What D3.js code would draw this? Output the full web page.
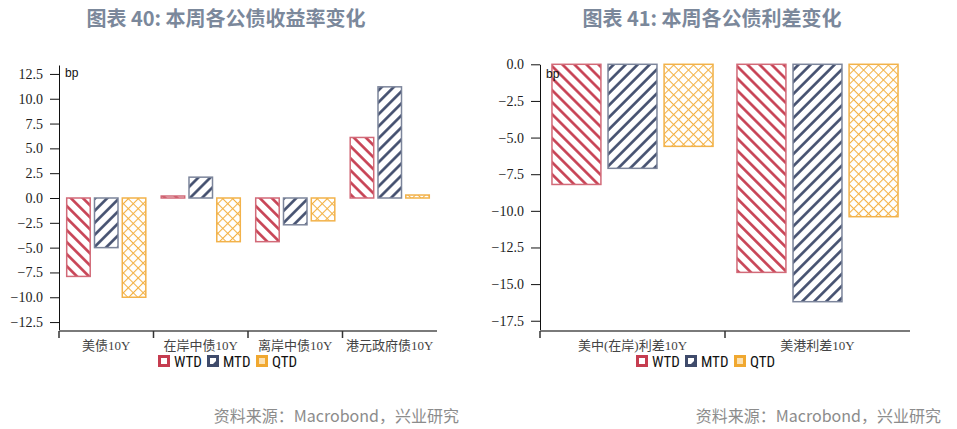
<!DOCTYPE html>
<html>
<head>
<meta charset="utf-8">
<script src="https://cdn.jsdelivr.net/npm/d3@7"></script>
<style>
    body { margin: 0; background: #fff; }
    .grfTitle { font-family: "Noto Sans CJK SC", sans-serif; font-weight: bold; font-size: 20px; fill: #7b889b; }
    .source { font-family: "Noto Sans CJK SC", sans-serif; font-size: 16px; fill: #8c8c8c; }
    .yticks text { font-family: "Liberation Serif", serif; font-size: 14px; fill: #222; }
    .xticks text { font-family: "Liberation Serif", "Noto Sans CJK SC", serif; font-size: 13px; fill: #444; }
    .unit { font-family: "Liberation Sans", sans-serif; font-size: 12px; fill: #111; }
    .legTxt { font-family: "Liberation Sans Narrow", "Roboto Condensed", sans-serif; font-size: 15px; fill: #111; }
</style>
</head>
<body>
<div id="grf"></div>
<script>
// chart 40 data
const yieldCats = ["美债10Y", "在岸中债10Y", "离岸中债10Y", "港元政府债10Y"];
const yieldWTD = [-7.9, 0.2, -4.4, 6.1];
const yieldMTD = [-5.0, 2.1, -2.7, 11.2];
const yieldQTD = [-10.0, -4.4, -2.3, 0.3];
const yieldTicks = [-12.5, -10, -7.5, -5, -2.5, 0, 2.5, 5, 7.5, 10, 12.5];

// chart 41 data
const spreadCats = ["美中(在岸)利差10Y", "美港利差10Y"];
const spreadWTD = [-8.2, -14.2];
const spreadMTD = [-7.1, -16.2];
const spreadQTD = [-5.6, -10.4];
const spreadTicks = [-17.5, -15, -12.5, -10, -7.5, -5, -2.5, 0];

const seriesNames = ["WTD", "MTD", "QTD"];

const W = 957, H = 429;

var svg = d3.select("#grf").append("svg")
    .attr("width", W)
    .attr("height", H);

// hatch patterns
var defs = svg.append("defs");

function stripe(id, color, angle, gap, thick) {
    var p = defs.append("pattern")
        .attr("id", id)
        .attr("patternUnits", "userSpaceOnUse")
        .attr("width", gap).attr("height", gap)
        .attr("patternTransform", "rotate(" + angle + ")");
    p.append("rect").attr("width", gap).attr("height", gap).attr("fill", "#fff");
    p.append("line")
        .attr("x1", gap / 2).attr("x2", gap / 2)
        .attr("y1", 0).attr("y2", gap)
        .attr("stroke", color).attr("stroke-width", thick);
}
stripe("hWTD", "#c63d50", -45, 8.5, 2.6);
stripe("hMTD", "#3f4b6b", 45, 8.5, 2.6);

var cross = defs.append("pattern")
    .attr("id", "hQTD")
    .attr("patternUnits", "userSpaceOnUse")
    .attr("width", 7).attr("height", 7)
    .attr("patternTransform", "rotate(45)");
cross.append("rect").attr("width", 7).attr("height", 7).attr("fill", "#fff");
cross.append("line").attr("x1", 0).attr("x2", 7).attr("y1", 0.5).attr("y2", 0.5)
    .attr("stroke", "#f3b143").attr("stroke-width", 1.1);
cross.append("line").attr("x1", 0.5).attr("x2", 0.5).attr("y1", 0).attr("y2", 7)
    .attr("stroke", "#f3b143").attr("stroke-width", 1.1);

var fills = { WTD: "url(#hWTD)", MTD: "url(#hMTD)", QTD: "url(#hQTD)" };
var borders = { WTD: "#d26a78", MTD: "#7c859b", QTD: "#f2b24a" };

function drawChart(cfg) {
    var g = svg.append("g");

    var x0 = d3.scaleBand()
        .domain(cfg.cats)
        .range([cfg.left, cfg.right]);
    var x1 = d3.scaleBand()
        .domain(seriesNames)
        .range([0, x0.bandwidth()])
        .paddingInner(0.1)
        .paddingOuter(cfg.outer);
    var y = d3.scaleLinear()
        .domain(cfg.domain)
        .range([cfg.bottom, cfg.top]);

    // title
    g.append("text")
        .attr("class", "grfTitle")
        .attr("x", cfg.titleX)
        .attr("y", 26)
        .attr("text-anchor", "middle")
        .text(cfg.title);

    // bars
    var rows = cfg.cats.map((c, i) => ({
        cat: c,
        vals: seriesNames.map((s, j) => ({ s: s, v: cfg.series[j][i] }))
    }));

    var grp = g.selectAll(".grp").data(rows).enter().append("g")
        .attr("class", "grp")
        .attr("transform", d => "translate(" + x0(d.cat) + ",0)");

    grp.selectAll("rect").data(d => d.vals).enter().append("rect")
        .attr("x", d => x1(d.s) + 0.75)
        .attr("width", x1.bandwidth() - 1.5)
        .attr("y", d => y(Math.max(0, d.v)))
        .attr("height", d => Math.abs(y(d.v) - y(0)))
        .attr("fill", d => fills[d.s])
        .attr("stroke", d => borders[d.s])
        .attr("stroke-width", 1.5);

    // y axis
    var ya = g.append("g")
        .attr("class", "yticks")
        .attr("transform", "translate(" + cfg.left + ",0)")
        .call(d3.axisLeft(y).tickValues(cfg.ticks).tickFormat(d3.format(".1f")).tickSize(9).tickPadding(7).tickSizeOuter(0));
    ya.select(".domain").attr("stroke", "#111");
    ya.selectAll(".tick line").attr("stroke", "#111");

    // x axis
    var xa = g.append("g")
        .attr("class", "xticks")
        .attr("transform", "translate(0," + cfg.bottom + ")");
    xa.append("line")
        .attr("x1", cfg.left).attr("x2", cfg.right)
        .attr("stroke", "#7a7a7a").attr("stroke-width", 2);
    xa.selectAll(".sep").data(cfg.cats).enter().append("line")
        .attr("class", "sep")
        .attr("x1", d => x0(d)).attr("x2", d => x0(d))
        .attr("y1", 0).attr("y2", 7)
        .attr("stroke", "#333").attr("stroke-width", 1.5);
    xa.selectAll(".lbl").data(cfg.cats).enter().append("text")
        .attr("class", "lbl")
        .attr("x", d => x0(d) + x0.bandwidth() / 2)
        .attr("y", 19)
        .attr("text-anchor", "middle")
        .text(d => d);

    // unit
    g.append("text")
        .attr("class", "unit")
        .attr("x", cfg.left + 6)
        .attr("y", cfg.unitY)
        .text("bp");

    // legend
    var leg = g.selectAll(".leg").data(seriesNames).enter().append("g")
        .attr("class", "leg")
        .attr("transform", (d, i) => "translate(" + (cfg.legX + i * 49) + "," + 361 + ")");
    leg.append("rect")
        .attr("x", 1.5).attr("y", -4.5)
        .attr("width", 9).attr("height", 9)
        .attr("fill", d => d === "QTD" ? "#fbe1b3" : "#fff")
        .attr("stroke", d => d === "WTD" ? "#c63d50" : d === "MTD" ? "#3f4b6b" : "#f0a830")
        .attr("stroke-width", 3);
    leg.filter(d => d === "MTD").append("path")
        .attr("d", "M3,6 L9,0 L9,6 Z")
        .attr("fill", "#3f4b6b");
    leg.append("text")
        .attr("class", "legTxt")
        .attr("x", 16)
        .attr("y", 5.5)
        .text(d => d);

    // source
    g.append("text")
        .attr("class", "source")
        .attr("x", cfg.srcX)
        .attr("y", 422)
        .attr("text-anchor", "end")
        .text("资料来源：Macrobond，兴业研究");
}

drawChart({
    title: "图表 40: 本周各公债收益率变化",
    titleX: 226,
    cats: yieldCats,
    series: [yieldWTD, yieldMTD, yieldQTD],
    ticks: yieldTicks,
    domain: [-13.4, 13.4],
    left: 59, right: 437, top: 65, bottom: 331,
    outer: 0.25,
    unitY: 77,
    legX: 158,
    srcX: 459
});

drawChart({
    title: "图表 41: 本周各公债利差变化",
    titleX: 712,
    cats: spreadCats,
    series: [spreadWTD, spreadMTD, spreadQTD],
    ticks: spreadTicks,
    domain: [-18.2, 0],
    left: 540, right: 910, top: 64.3, bottom: 331,
    outer: 0.2,
    unitY: 78,
    legX: 636,
    srcX: 941
});
</script>
</body>
</html>
